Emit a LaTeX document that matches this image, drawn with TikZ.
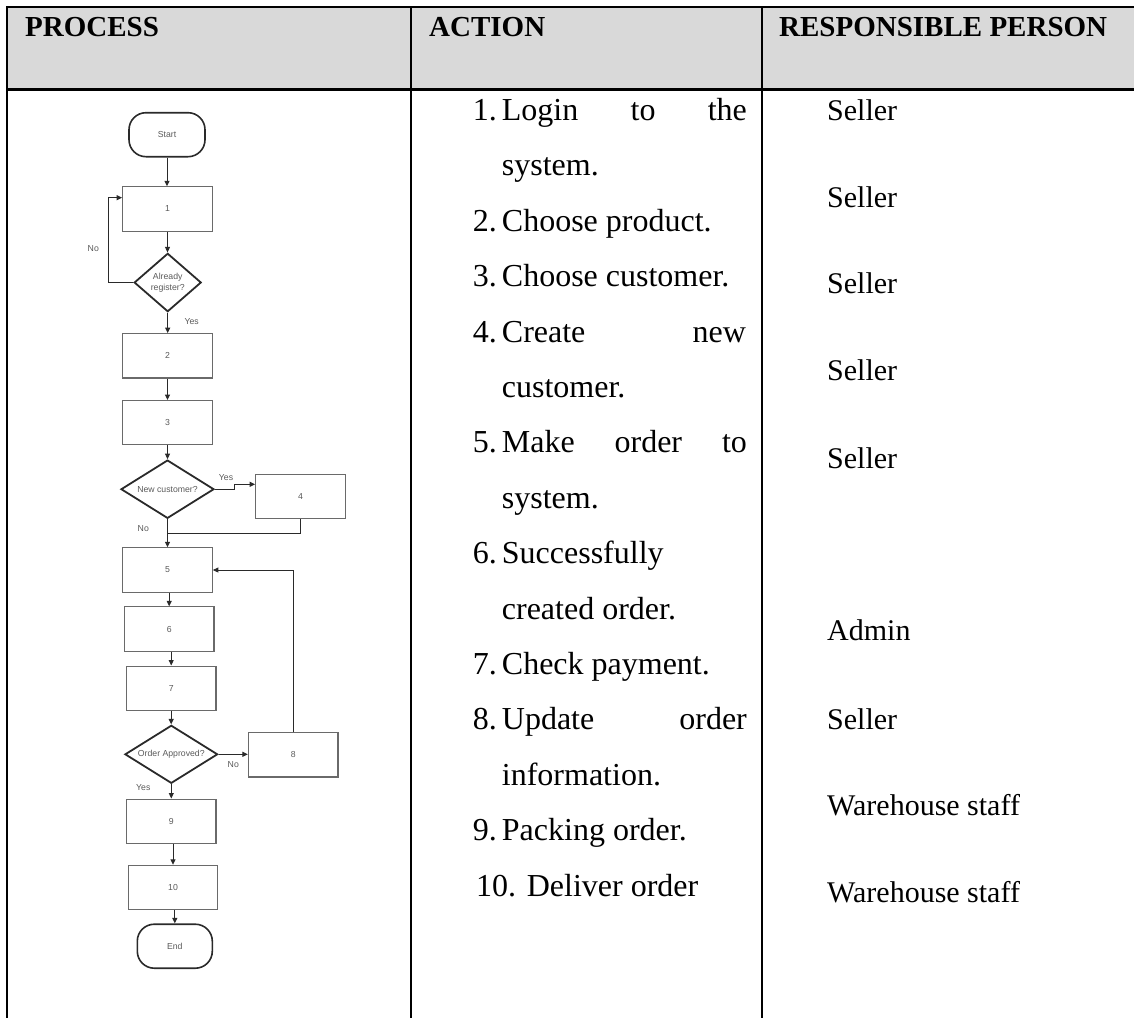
\documentclass[tikz,border=0pt]{standalone}
\usepackage{fontspec}
\setmainfont{Liberation Serif}
\newfontfamily\flowfont{Liberation Sans}
\usetikzlibrary{shapes.geometric,arrows.meta}

\definecolor{hdrgray}{HTML}{D9D9D9}
\definecolor{boxline}{HTML}{6A6A6A}
\definecolor{darkline}{HTML}{2A2A2A}
\definecolor{flowtext}{HTML}{5A5A5A}

\begin{document}
\begin{tikzpicture}[x=1pt,y=-1pt,
  tbl/.style={line width=2.2pt,black},
  hdr/.style={font=\fontsize{29}{34}\selectfont\bfseries,anchor=base west,inner sep=0},
  act/.style={font=\fontsize{32}{38}\selectfont,anchor=base west,inner sep=0},
  who/.style={font=\fontsize{30}{36}\selectfont,anchor=base west,inner sep=0},
  flow/.style={font=\flowfont\fontsize{8.7}{11}\selectfont,text=flowtext},
  proc/.style={flow,draw=boxline,line width=1.1pt,minimum width=89.6pt,minimum height=44.3pt,inner sep=0},
  term/.style={flow,draw=darkline,line width=1.6pt,rounded corners=17pt,minimum width=76pt,minimum height=44pt,inner sep=0},
  dec/.style={flow,diamond,draw=darkline,line width=1.8pt,inner sep=0,align=center},
  link/.style={draw=darkline,line width=1pt},
  arr/.style={link,-{Triangle[length=5.5pt,width=5pt]}},
  lbl/.style={flow,inner sep=0}]

\useasboundingbox (0,0) rectangle (1134,1018);

% ---- table frame ----
\fill[hdrgray] (7,7) rectangle (1134,89.5);
\draw[tbl] (6,7) -- (1134,7);
\draw[tbl] (6,89.5) -- (1134,89.5);
\draw[tbl] (7,6) -- (7,1018);
\draw[tbl] (411,6) -- (411,1018);
\draw[tbl] (762,6) -- (762,1018);

% ---- header row ----
\node[hdr] (hproc) at (25,36) {PROCESS};
\node[hdr] (hact) at (429,36) {ACTION};
\node[hdr] (hwho) at (779,36) {RESPONSIBLE PERSON};

% ---- action column ----
\node[act] (a1n) at (472.7,120.4) {1.};
\node[act] (a1t) at (501.7,120.4) {\makebox[245pt][s]{Login to the}};
\node[act] (a1c) at (501.7,175.8) {system.};
\node[act] (a2n) at (472.7,231.2) {2.};
\node[act] (a2t) at (501.7,231.2) {Choose product.};
\node[act] (a3n) at (472.7,286.6) {3.};
\node[act] (a3t) at (501.7,286.6) {Choose customer.};
\node[act] (a4n) at (472.7,342.0) {4.};
\node[act] (a4t) at (501.7,342.0) {\makebox[244pt][s]{Create new}};
\node[act] (a4c) at (501.7,397.4) {customer.};
\node[act] (a5n) at (472.7,452.8) {5.};
\node[act] (a5t) at (501.7,452.8) {\makebox[245pt][s]{Make order to}};
\node[act] (a5c) at (501.7,508.2) {system.};
\node[act] (a6n) at (472.7,563.6) {6.};
\node[act] (a6t) at (501.7,563.6) {Successfully};
\node[act] (a6c) at (501.7,619.0) {created order.};
\node[act] (a7n) at (472.7,674.4) {7.};
\node[act] (a7t) at (501.7,674.4) {Check payment.};
\node[act] (a8n) at (472.7,729.8) {8.};
\node[act] (a8t) at (501.7,729.8) {\makebox[245pt][s]{Update order}};
\node[act] (a8c) at (501.7,785.2) {information.};
\node[act] (a9n) at (472.7,840.6) {9.};
\node[act] (a9t) at (501.7,840.6) {Packing order.};
\node[act] (a10) at (476,896) {10. Deliver order};

% ---- responsible column ----
\node[who] (r1) at (827,120) {Seller};
\node[who] (r2) at (827,207.5) {Seller};
\node[who] (r3) at (827,293.5) {Seller};
\node[who] (r4) at (827,380.5) {Seller};
\node[who] (r5) at (827,468) {Seller};
\node[who] (r6) at (827,640.5) {Admin};
\node[who] (r7) at (827,729.5) {Seller};
\node[who] (r8) at (827,815.5) {Warehouse staff};
\node[who] (r9) at (827,902.5) {Warehouse staff};

% ---- process flowchart ----
\node[term] (start) at (167,134.7) {Start};
\node[proc] (p1) at (167.5,209) {1};
\node[dec,minimum width=67pt,minimum height=58.4pt,aspect=1.15] (d1) at (167.7,282.5) {Already\\register?};
\node[proc] (p2) at (167.5,355.8) {2};
\node[proc] (p3) at (167.5,422.7) {3};
\node[dec,minimum width=93pt,minimum height=58.3pt,aspect=1.6] (d2) at (167.5,489.2) {New customer?};
\node[proc] (p4) at (300.5,496.7) {4};
\node[proc] (p5) at (167.5,570) {5};
\node[proc] (p6) at (169.2,629) {6};
\node[proc] (p7) at (171.2,688.2) {7};
\node[dec,minimum width=92.7pt,minimum height=58pt,aspect=1.6] (d3) at (171.3,754.3) {Order Approved?};
\node[proc] (p8) at (293.2,754.8) {8};
\node[proc] (p9) at (171.2,821.2) {9};
\node[proc] (p10) at (173,887.5) {10};
\node[term,minimum width=75pt] (end) at (174.8,946.2) {End};

% connectors
\draw[arr] (start.south) -- (start.south |- p1.north);
\draw[arr] (p1.south) -- (p1.south |- d1.north);
\coordinate (noturn) at (108.3,197.7);
\draw[arr] (d1.west) -| (noturn) -- (p1.west |- noturn);
\node[lbl] (lno1) at (93.3,249) {No};
\draw[arr] (d1.south) -- (d1.south |- p2.north);
\node[lbl] (lyes1) at (191.7,322) {Yes};
\draw[arr] (p2.south) -- (p2.south |- p3.north);
\draw[arr] (p3.south) -- (p3.south |- d2.north);
\coordinate (yesjog) at (234,484.3);
\draw[arr] (d2.east) -| (yesjog) -- (p4.west |- yesjog);
\node[lbl] (lyes2) at (226,477.3) {Yes};
\coordinate (merge) at (167.5,533.3);
\draw[link] (p4.south) |- (merge);
\draw[arr] (d2.south) -- (d2.south |- p5.north);
\node[lbl] (lno2) at (143.3,529) {No};
\draw[arr] (p6.north |- p5.south) -- (p6.north);
\draw[arr] (p7.north |- p6.south) -- (p7.north);
\draw[arr] (p7.south) -- (p7.south |- d3.north);
\draw[arr] (d3.east) -- (p8.west |- d3.east);
\node[lbl] (lno3) at (233.3,764.7) {No};
\draw[arr] (p8.north) |- (p5.east);
\draw[arr] (d3.south) -- (d3.south |- p9.north);
\node[lbl] (lyes3) at (143.3,787.3) {Yes};
\draw[arr] (p10.north |- p9.south) -- (p10.north);
\draw[arr] (end.north |- p10.south) -- (end.north);
\end{tikzpicture}
\end{document}
